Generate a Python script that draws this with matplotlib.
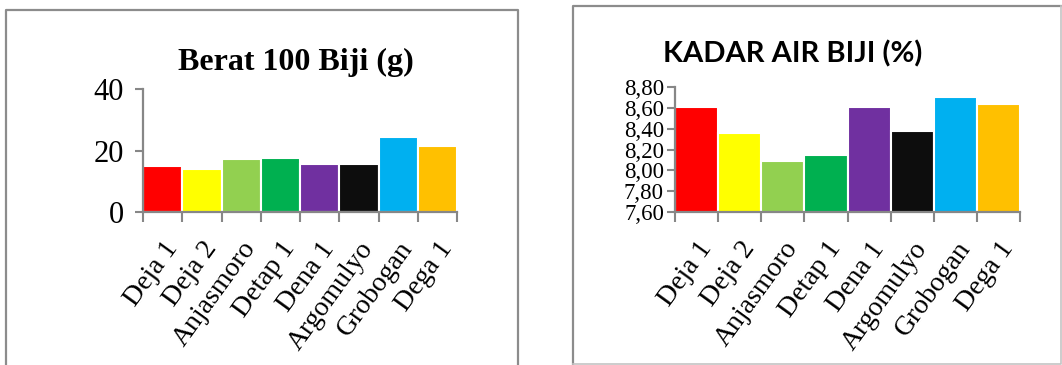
import matplotlib
matplotlib.use('Agg')
import matplotlib.pyplot as plt
from matplotlib.lines import Line2D

# varietas kedelai
varietas = ["Deja 1", "Deja 2", "Anjasmoro", "Detap 1",
            "Dena 1", "Argomulyo", "Grobogan", "Dega 1"]
warna = ["#FF0000", "#FFFF00", "#92D050", "#00B050",
         "#7030A0", "#0D0D0D", "#00B0F0", "#FFC000"]

# berat 100 biji (g)
berat_100 = [15.1, 14.1, 17.3, 17.7, 15.5, 15.5, 24.3, 21.4]
berat_ticks = [0, 20, 40]

# kadar air biji (%)
kadar_air = [8.61, 8.36, 8.09, 8.15, 8.61, 8.38, 8.70, 8.64]
kadar_ticks = [7.60, 7.80, 8.00, 8.20, 8.40, 8.60, 8.80]

W, H = 1062, 365
SERIF = 'Liberation Serif'
ABU = '#878787'

fig = plt.figure(figsize=(W / 100, H / 100), dpi=100)


def px(x0, y0, x1, y1):
    # pixel box (top-left origin) -> figure fraction rect
    return [x0 / W, 1 - y1 / H, (x1 - x0) / W, (y1 - y0) / H]


def gambar_bar(ax, nilai, yticks, ylabels, ysize, ypad):
    x = range(len(nilai))
    ax.bar(x, nilai, width=1.0, color=warna, edgecolor='white', linewidth=1.5)
    ax.set_xlim(-0.5, len(nilai) - 0.5)
    ax.set_ylim(yticks[0], yticks[-1])
    for s in ['top', 'right']:
        ax.spines[s].set_visible(False)
    for s in ['left', 'bottom']:
        ax.spines[s].set_color(ABU)
        ax.spines[s].set_linewidth(1.6)
    ax.set_yticks(yticks)
    ax.set_yticklabels(ylabels, fontsize=ysize, family=SERIF)
    ax.tick_params(axis='y', length=6, width=1.5, color=ABU, pad=ypad)
    # garis tick di batas kategori, label di tengah
    ax.set_xticks([i - 0.5 for i in range(len(nilai) + 1)])
    ax.set_xticklabels([])
    ax.tick_params(axis='x', which='major', length=7, width=1.5, color=ABU)
    ax.set_xticks(list(x), minor=True)
    ax.set_xticklabels(varietas, minor=True, rotation=54, ha='right',
                       rotation_mode='anchor', fontsize=20, family=SERIF)
    ax.tick_params(axis='x', which='minor', length=0, pad=18)


ax1 = fig.add_axes(px(143, 89, 457, 212))
gambar_bar(ax1, berat_100, berat_ticks, [str(t) for t in berat_ticks], 22, 8)
fig.text(296 / W, 1 - 70 / H, "Berat 100 Biji (g)", ha='center', va='baseline',
         fontsize=23, fontweight='bold', family=SERIF)

ax2 = fig.add_axes(px(675, 87, 1020, 212))
gambar_bar(ax2, kadar_air, kadar_ticks,
           [f"{t:.2f}".replace('.', ',') for t in kadar_ticks], 16.5, 2)
fig.text(793 / W, 1 - 62 / H, "KADAR AIR BIJI (%)", ha='center', va='baseline',
         fontsize=21, fontweight='bold', family=['Lato', 'DejaVu Sans'])


# bingkai kedua grafik
def garis(x, y, c, lw):
    fig.add_artist(Line2D([v / W for v in x], [1 - v / H for v in y],
                          transform=fig.transFigure, color=c, linewidth=lw))


garis([6, 6, 518, 518], [365, 9.5, 9.5, 365], '#8C8C8C', 1.6)
garis([573, 573, 1061], [365, 6, 6], '#8C8C8C', 1.6)
garis([1061, 1061, 573], [6, 364, 364], '#C4C4C4', 1.2)

fig.savefig('out.png', dpi=100)
